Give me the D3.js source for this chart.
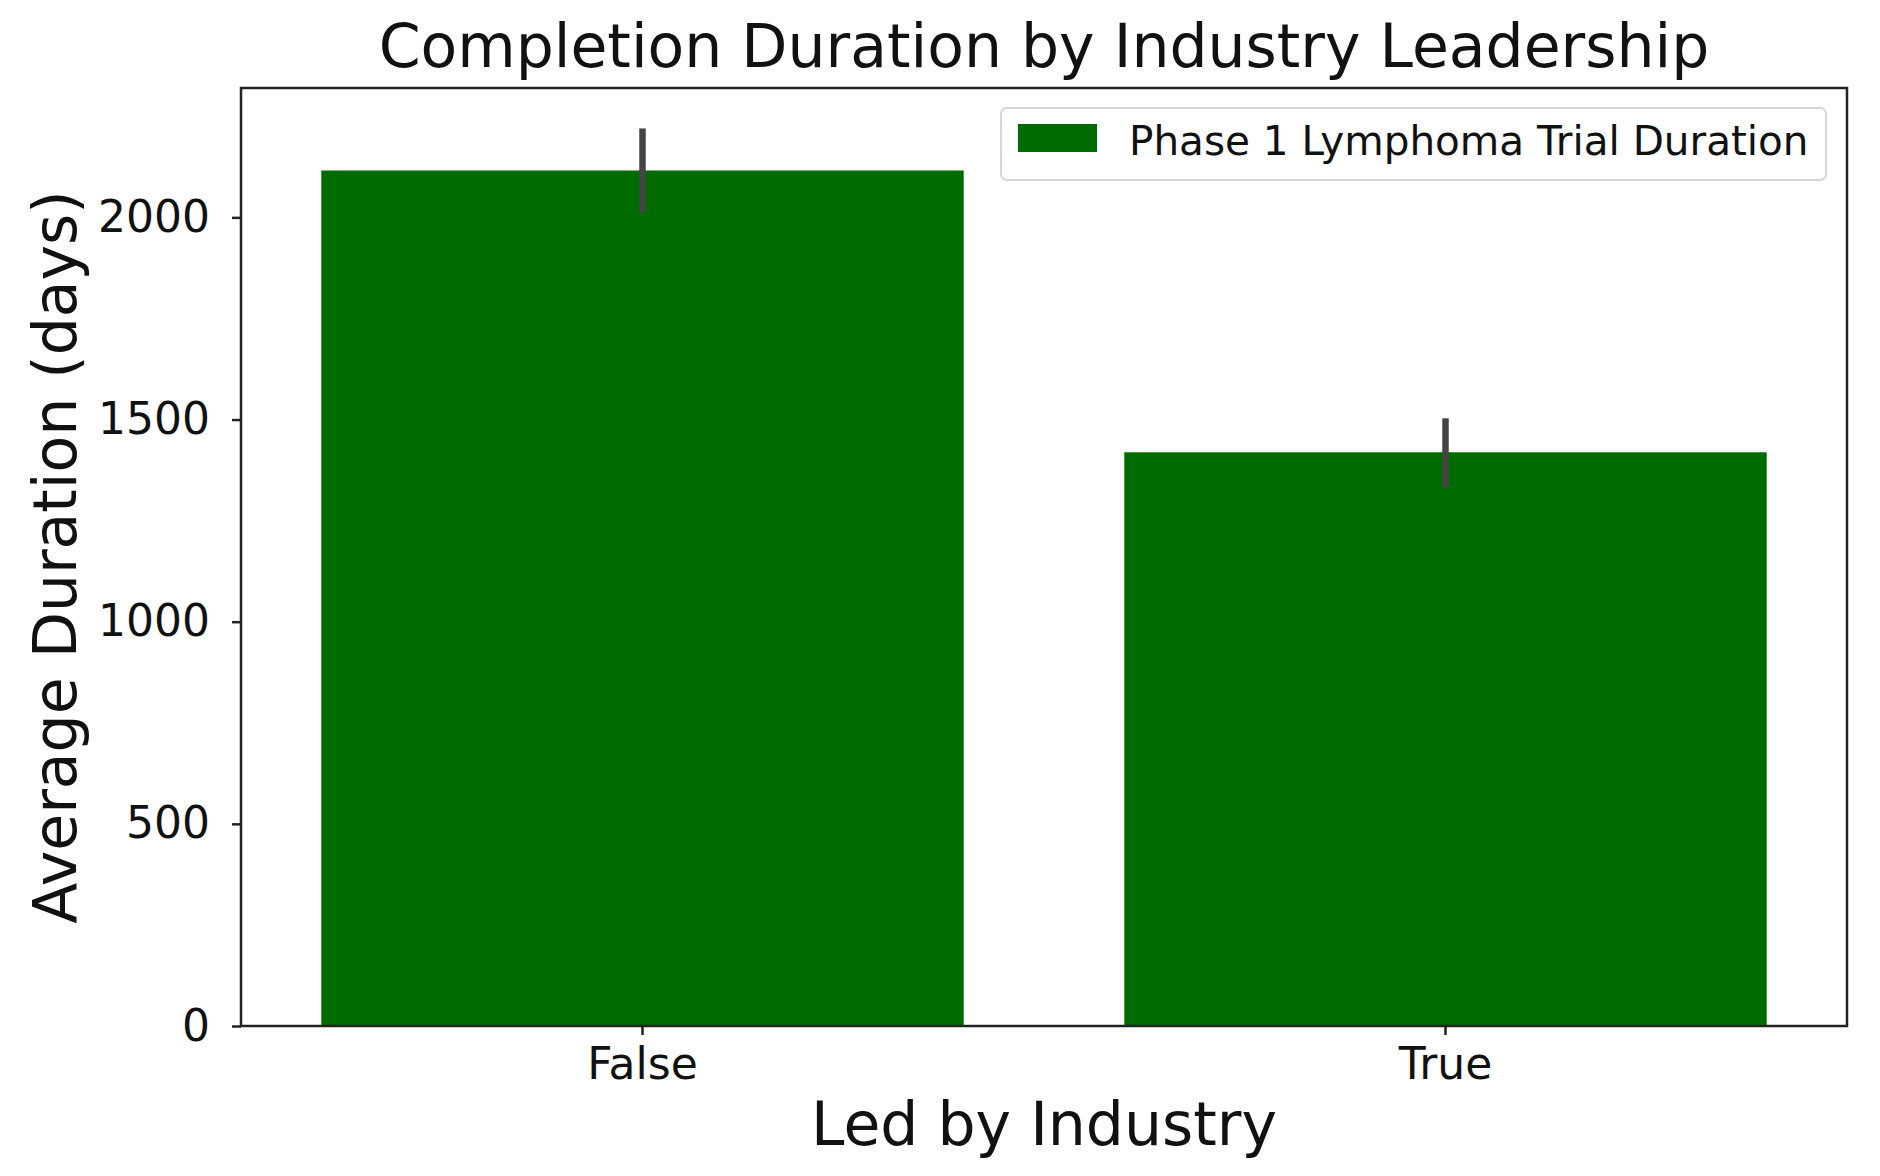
<!DOCTYPE html>
<html><head><meta charset="utf-8">
<script src="https://cdn.jsdelivr.net/npm/d3@7"></script>
<style>html,body{margin:0;padding:0;background:#fff;} text{font-family:"DejaVu Sans",sans-serif;fill:#111;}</style>
</head><body>
<svg id="c" width="1880" height="1176"></svg>
<script>
const categories = ["False", "True"];
const meanValues = [2116, 1419];
const errLow = [2012, 1332];
const errHigh = [2220, 1503];
const yTicks = [0, 500, 1000, 1500, 2000];
const seriesName = "Phase 1 Lymphoma Trial Duration";

const svg = d3.select("#c");
const L = 241, R = 1847, T = 88, B = 1026;
const green = "#006c00";

const x = d3.scaleBand().domain(categories).range([L, R]).paddingInner(0.2).paddingOuter(0.1);
const y = d3.scaleLinear().domain([0, 2320]).range([B, T]);

svg.append("rect").attr("x",0).attr("y",0).attr("width",1880).attr("height",1176).attr("fill","#fff");

// bars
svg.selectAll("rect.bar").data(categories).enter().append("rect").attr("class","bar")
  .attr("x", d => x(d)).attr("width", x.bandwidth())
  .attr("y", (d,i) => y(meanValues[i])).attr("height", (d,i) => B - y(meanValues[i]))
  .attr("fill", green);

// error bars
svg.selectAll("line.err").data(categories).enter().append("line").attr("class","err")
  .attr("x1", d => x(d) + x.bandwidth()/2).attr("x2", d => x(d) + x.bandwidth()/2)
  .attr("y1", (d,i) => y(errLow[i])).attr("y2", (d,i) => y(errHigh[i]))
  .attr("stroke", "#444").attr("stroke-width", 6.5);

// axes
const yAxis = d3.axisLeft(y).tickValues(yTicks).tickFormat(d3.format("d")).tickSize(9).tickPadding(22);
const gy = svg.append("g").attr("transform", `translate(${L},0)`).call(yAxis);
gy.select(".domain").remove();
gy.selectAll(".tick line").attr("stroke","#222").attr("stroke-width",2.5);
gy.selectAll(".tick text").attr("font-size", 44).attr("fill","#111").style("font-family","DejaVu Sans");

const xAxis = d3.axisBottom(x).tickSize(9).tickPadding(13);
const gx = svg.append("g").attr("transform", `translate(0,${B})`).call(xAxis);
gx.select(".domain").remove();
gx.selectAll(".tick line").attr("stroke","#222").attr("stroke-width",2.5);
gx.selectAll(".tick text").attr("font-size", 44).attr("fill","#111").style("font-family","DejaVu Sans");

// frame
svg.append("rect").attr("x", L).attr("y", T).attr("width", R-L).attr("height", B-T)
  .attr("fill","none").attr("stroke","#222").attr("stroke-width",2.5);

// title and labels
svg.append("text").attr("x", (L+R)/2).attr("y", 67).attr("text-anchor","middle")
  .attr("font-size", 60).text("Completion Duration by Industry Leadership");
svg.append("text").attr("x", (L+R)/2).attr("y", 1145).attr("text-anchor","middle")
  .attr("font-size", 60).text("Led by Industry");
svg.append("text").attr("transform", `translate(76,${(T+B)/2}) rotate(-90)`).attr("text-anchor","middle")
  .attr("font-size", 60).text("Average Duration (days)");

// legend
const lg = svg.append("g");
lg.append("rect").attr("x",1001).attr("y",108).attr("width",825).attr("height",72).attr("rx",6)
  .attr("fill","#fff").attr("fill-opacity",0.8).attr("stroke","#d6d6d6").attr("stroke-width",2);
lg.append("rect").attr("x",1018).attr("y",124).attr("width",79).attr("height",28).attr("fill",green);
lg.append("text").attr("x",1129).attr("y",155).attr("font-size",40.5).text(seriesName);
</script>
</body></html>
